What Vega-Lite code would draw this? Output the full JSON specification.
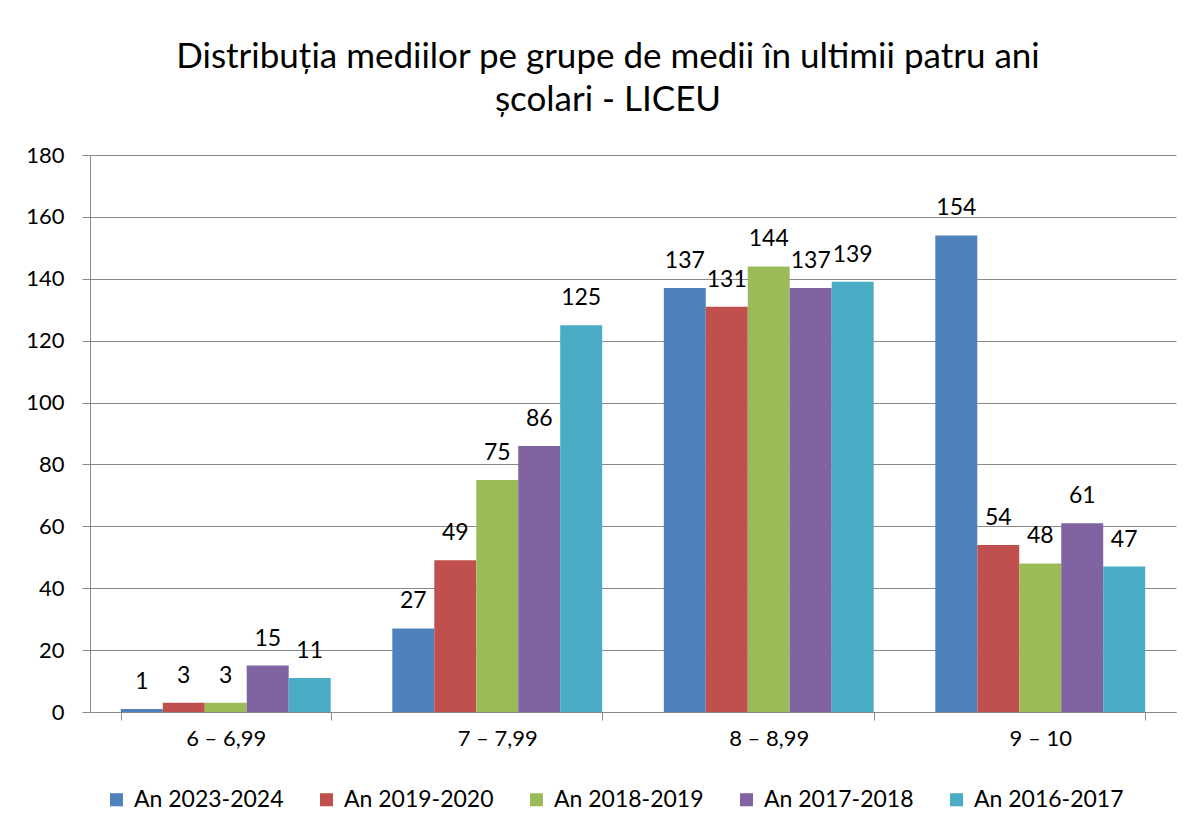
{
  "$schema": "https://vega.github.io/schema/vega-lite/v6.json",
  "width": 1086,
  "height": 557,
  "autosize": {"type": "none"},
  "padding": {"left": 90, "top": 155, "right": 22, "bottom": 123},
  "background": "white",
  "title": {
    "text": ["Distribuția mediilor pe grupe de medii în ultimii patru ani", "școlari - LICEU"],
    "font": "Lato",
    "fontSize": 35,
    "fontWeight": "normal",
    "color": "black",
    "anchor": "middle",
    "dx": -25,
    "offset": 26,
    "lineHeight": 43
  },
  "config": {
    "view": {"stroke": null},
    "font": "Lato"
  },
  "data": {
    "values": [
      {"grupa": "6 – 6,99", "an": "An 2023-2024", "valoare": 1},
      {"grupa": "6 – 6,99", "an": "An 2019-2020", "valoare": 3},
      {"grupa": "6 – 6,99", "an": "An 2018-2019", "valoare": 3},
      {"grupa": "6 – 6,99", "an": "An 2017-2018", "valoare": 15},
      {"grupa": "6 – 6,99", "an": "An 2016-2017", "valoare": 11},
      {"grupa": "7 – 7,99", "an": "An 2023-2024", "valoare": 27},
      {"grupa": "7 – 7,99", "an": "An 2019-2020", "valoare": 49},
      {"grupa": "7 – 7,99", "an": "An 2018-2019", "valoare": 75},
      {"grupa": "7 – 7,99", "an": "An 2017-2018", "valoare": 86},
      {"grupa": "7 – 7,99", "an": "An 2016-2017", "valoare": 125},
      {"grupa": "8 – 8,99", "an": "An 2023-2024", "valoare": 137},
      {"grupa": "8 – 8,99", "an": "An 2019-2020", "valoare": 131},
      {"grupa": "8 – 8,99", "an": "An 2018-2019", "valoare": 144},
      {"grupa": "8 – 8,99", "an": "An 2017-2018", "valoare": 137},
      {"grupa": "8 – 8,99", "an": "An 2016-2017", "valoare": 139},
      {"grupa": "9 – 10", "an": "An 2023-2024", "valoare": 154},
      {"grupa": "9 – 10", "an": "An 2019-2020", "valoare": 54},
      {"grupa": "9 – 10", "an": "An 2018-2019", "valoare": 48},
      {"grupa": "9 – 10", "an": "An 2017-2018", "valoare": 61},
      {"grupa": "9 – 10", "an": "An 2016-2017", "valoare": 47}
    ]
  },
  "encoding": {
    "x": {
      "field": "grupa",
      "type": "nominal",
      "sort": ["6 – 6,99", "7 – 7,99", "8 – 8,99", "9 – 10"],
      "scale": {"paddingInner": 0.227, "paddingOuter": 0.1135},
      "axis": {
        "title": null,
        "labelAngle": 0,
        "tickBand": "extent",
        "domainColor": "#8a8a8a",
        "tickColor": "#8a8a8a",
        "tickSize": 8,
        "labelFontSize": 22,
        "labelColor": "black",
        "labelPadding": 8,
        "grid": false
      }
    },
    "xOffset": {
      "field": "an",
      "type": "nominal",
      "sort": ["An 2023-2024", "An 2019-2020", "An 2018-2019", "An 2017-2018", "An 2016-2017"],
      "scale": {"paddingInner": 0, "paddingOuter": 0}
    },
    "y": {
      "field": "valoare",
      "type": "quantitative",
      "scale": {"domain": [0, 180], "nice": false},
      "axis": {
        "title": null,
        "values": [0, 20, 40, 60, 80, 100, 120, 140, 160, 180],
        "grid": true,
        "gridColor": "#8a8a8a",
        "gridWidth": 1,
        "domainColor": "#8a8a8a",
        "tickColor": "#8a8a8a",
        "tickSize": 8,
        "labelFontSize": 22,
        "labelColor": "black",
        "labelPadding": 18
      }
    }
  },
  "layer": [
    {
      "mark": {"type": "bar"},
      "encoding": {
        "color": {
          "field": "an",
          "type": "nominal",
          "scale": {
            "domain": ["An 2023-2024", "An 2019-2020", "An 2018-2019", "An 2017-2018", "An 2016-2017"],
            "range": ["#4F81BD", "#C0504D", "#9BBB59", "#8064A2", "#4BACC6"]
          },
          "legend": {
            "orient": "none",
            "legendX": 15,
            "legendY": 633,
            "direction": "horizontal",
            "title": null,
            "symbolType": "square",
            "symbolSize": 170,
            "symbolStrokeWidth": 0,
            "labelFontSize": 23,
            "labelColor": "black",
            "labelOffset": 6,
            "columnPadding": 31,
            "labelLimit": 300
          }
        }
      }
    },
    {
      "mark": {"type": "text", "dy": -27, "fontSize": 23, "color": "black"},
      "encoding": {
        "text": {"field": "valoare", "type": "quantitative"}
      }
    }
  ]
}
